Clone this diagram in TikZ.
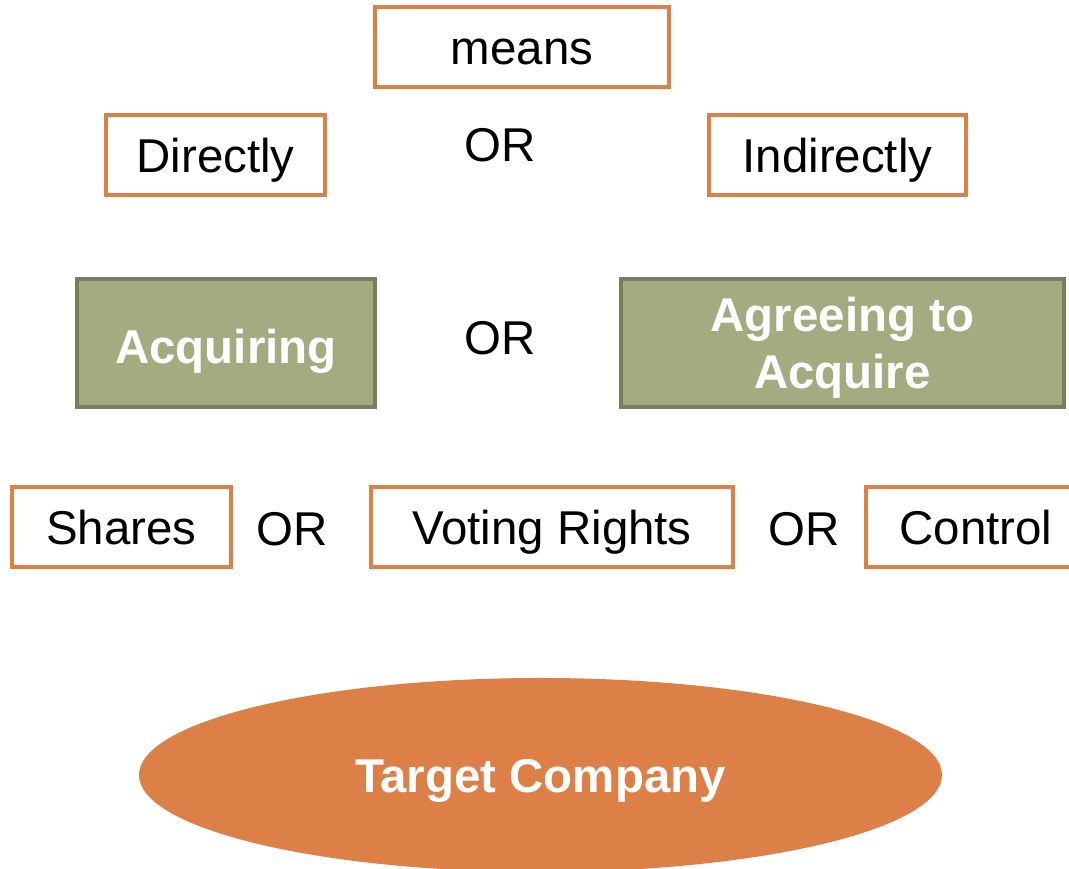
\documentclass[tikz,border=0pt]{standalone}
\usepackage{fontspec}
\usepackage{tkz-euclide}
\usetikzlibrary{shapes.geometric}
\setmainfont{Liberation Sans}
\definecolor{boxorange}{HTML}{DD8047}
\definecolor{boxgreen}{HTML}{A5AB81}
\definecolor{greenline}{HTML}{7A7E5E}
\tikzset{>=stealth,
  obox/.style={draw=boxorange, line width=2pt, fill=white, inner sep=0pt,
    minimum height=1.6cm, text height=25pt, text depth=5pt},
  gbox/.style={draw=greenline, line width=2pt, fill=boxgreen, inner sep=0pt,
    minimum height=2.56cm, text=white, font=\fontsize{27}{32}\selectfont\bfseries, align=center},
  ortext/.style={inner sep=0pt}}

\begin{document}
\begin{tikzpicture}[font=\fontsize{27}{32}\selectfont]
    \useasboundingbox (0,0) rectangle (21.38,17.38);
    \clip (0,0) rectangle (21.38,17.38);
    \tkzDefPoints{10.44/16.44/M, 4.31/14.28/Di, 10/14.48/O1, 16.75/14.28/In}
    \tkzDefPoints{4.52/10.52/Aq, 10/10.62/O2, 16.85/10.52/Ag}
    \tkzDefPoints{2.43/6.84/Sh, 5.84/6.8/O3, 11.04/6.84/Vr, 16.08/6.8/O4, 19.52/6.84/Co}
    \tkzDefPoints{10.81/1.88/T}
    % top rows
    \node (means) at (M) [obox, minimum width=5.88cm] {means};
    \node (directly) at (Di) [obox, minimum width=4.38cm] {Directly};
    \node (or1) at (O1) [ortext] {OR};
    \node (indirectly) at (In) [obox, minimum width=5.14cm] {Indirectly};
    \node (acquiring) at (Aq) [gbox, minimum width=5.96cm, text height=28pt, text depth=5pt] {Acquiring};
    \node (or2) at (O2) [ortext] {OR};
    \node (agreeing) at (Ag) [gbox, minimum width=8.86cm] {\rule{0pt}{25pt}Agreeing to\\Acquire};
    % what is acquired
    \node (shares) at (Sh) [obox, minimum width=4.38cm] {Shares};
    \node (or3) at (O3) [ortext] {OR};
    \node (voting) at (Vr) [obox, minimum width=7.24cm] {Voting Rights};
    \node (or4) at (O4) [ortext] {OR};
    \node (control) at (Co) [obox, minimum width=4.4cm] {Control};
    \node (target) at (T) [ellipse, fill=boxorange, inner sep=0pt, text height=25pt, text depth=5pt,
      minimum width=16.06cm, minimum height=3.88cm, text=white, font=\fontsize{27}{32}\selectfont\bfseries] {Target Company};
\end{tikzpicture}
\end{document}
